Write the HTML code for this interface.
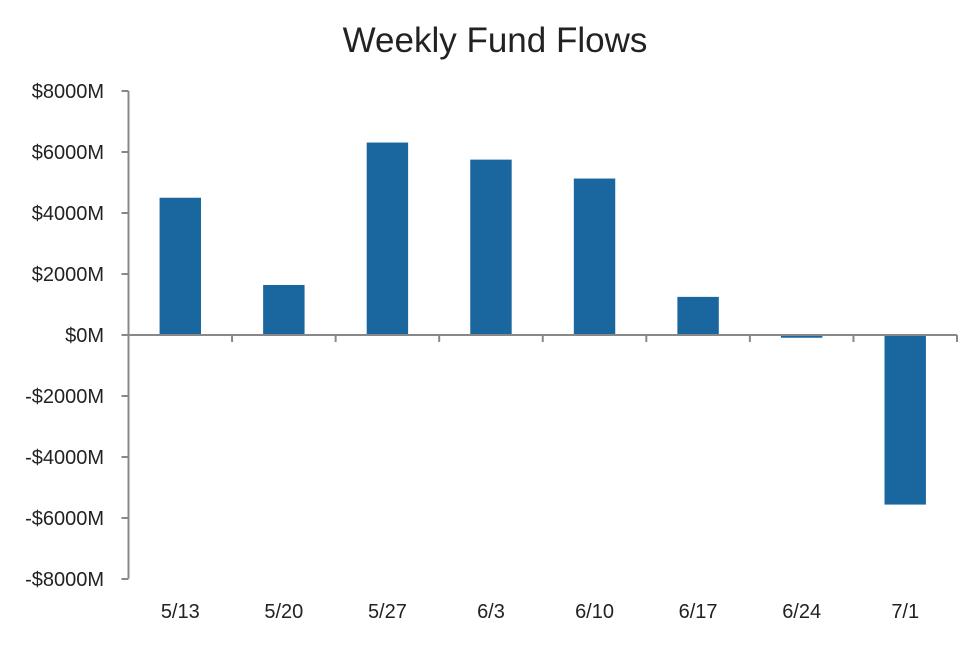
<!DOCTYPE html>
<html><head><meta charset="utf-8"><style>
body{margin:0;background:#fff;}
svg text{font-family:"Liberation Sans",sans-serif;fill:#222;}
</style></head><body>
<svg id="chart" width="978" height="642">
<text x="495" y="52" text-anchor="middle" font-size="35">Weekly Fund Flows</text>
<g id="yaxis"></g>
<g id="bars"></g>
<g id="xaxis"></g>
</svg>
<script>
const categories=["5/13","5/20","5/27","6/3","6/10","6/17","6/24","7/1"];
const flows=[4500,1640,6310,5750,5130,1250,-90,-5560];
const yTicks=[8000,6000,4000,2000,0,-2000,-4000,-6000,-8000];
const yTickLabels=["$8000M","$6000M","$4000M","$2000M","$0M","-$2000M","-$4000M","-$6000M","-$8000M"];
const NS="http://www.w3.org/2000/svg";
const x0=128.5,x1=957,yTop=91,yBot=578.5;
const y=v=>335-(v/8000)*(335-yTop);
const slot=(x1-x0)/categories.length;
function mk(t,a,p){const e=document.createElementNS(NS,t);for(const k in a)e.setAttribute(k,a[k]);p.appendChild(e);return e;}
const ya=document.getElementById('yaxis'),ba=document.getElementById('bars'),xa=document.getElementById('xaxis');
const yl=mk('line',{x1:x0,x2:x0,y1:yTop,y2:yBot,stroke:'#888','stroke-width':2},ya);


yTicks.forEach((v,i)=>{
 const t=mk('line',{x1:x0-7,x2:x0,y1:y(v),y2:y(v),stroke:'#888','stroke-width':2},ya);
 
 
 const l=mk('text',{x:104,y:y(v)+7,'text-anchor':'end','font-size':20},ya);
 l.textContent=yTickLabels[i];
 
 
});
flows.forEach((v,i)=>{
 const cx=x0+slot*(i+0.5),w=slot*0.4;
 const r=mk('rect',{x:cx-w/2,y:Math.min(y(v),y(0)),width:w,height:Math.abs(y(v)-y(0)),fill:'#1a67a0'},ba);
 
 
 const l=mk('text',{x:cx,y:618,'text-anchor':'middle','font-size':20},xa);
 l.textContent=categories[i];
 
 
});
const xl=mk('line',{x1:x0,x2:x1,y1:y(0),y2:y(0),stroke:'#888','stroke-width':2},xa);


for(let i=1;i<=categories.length;i++){
 const t=mk('line',{x1:x0+slot*i,x2:x0+slot*i,y1:y(0),y2:y(0)+7,stroke:'#888','stroke-width':2},xa);
 
 
}
</script>
</body></html>
